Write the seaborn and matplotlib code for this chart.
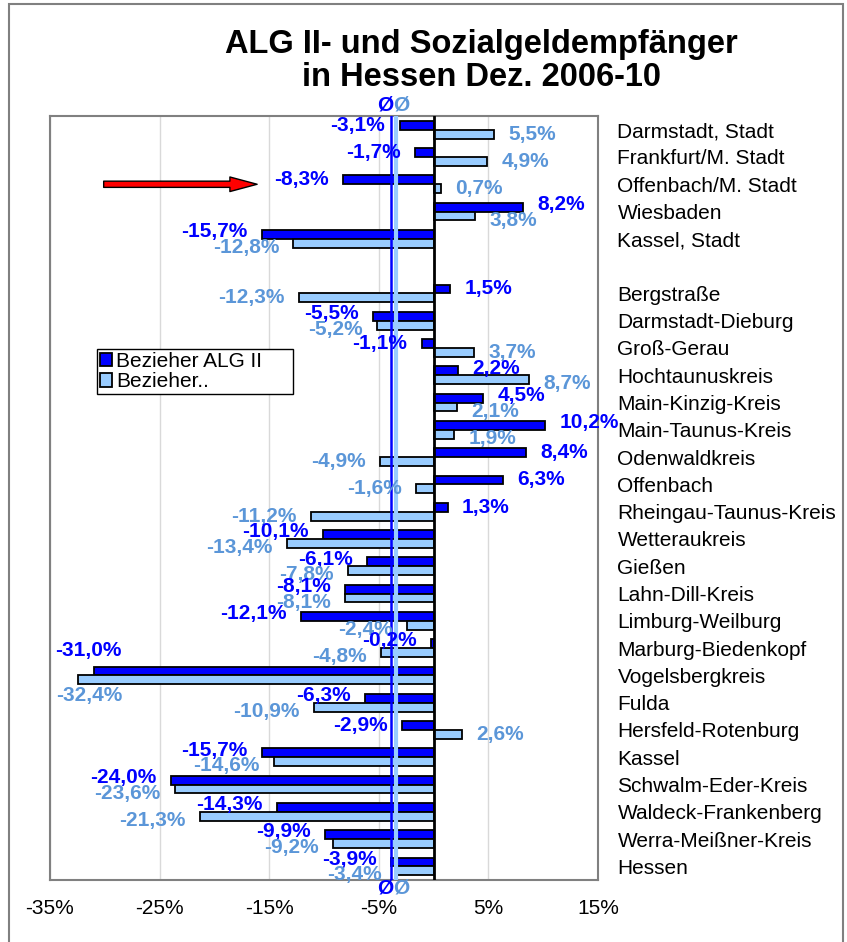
import matplotlib
matplotlib.use('Agg')
import matplotlib.pyplot as plt
import matplotlib.transforms as mtransforms
from matplotlib import font_manager
from matplotlib.patches import Rectangle
import seaborn as sns
import pandas as pd

regions = ["Darmstadt, Stadt", "Frankfurt/M. Stadt", "Offenbach/M. Stadt", "Wiesbaden",
           "Kassel, Stadt", "Bergstraße", "Darmstadt-Dieburg", "Groß-Gerau",
           "Hochtaunuskreis", "Main-Kinzig-Kreis", "Main-Taunus-Kreis", "Odenwaldkreis",
           "Offenbach", "Rheingau-Taunus-Kreis", "Wetteraukreis", "Gießen",
           "Lahn-Dill-Kreis", "Limburg-Weilburg", "Marburg-Biedenkopf", "Vogelsbergkreis",
           "Fulda", "Hersfeld-Rotenburg", "Kassel", "Schwalm-Eder-Kreis",
           "Waldeck-Frankenberg", "Werra-Meißner-Kreis", "Hessen"]
alg2 = [-3.1, -1.7, -8.3, 8.2, -15.7, 1.5, -5.5, -1.1, 2.2, 4.5, 10.2, 8.4, 6.3, 1.3,
        -10.1, -6.1, -8.1, -12.1, -0.2, -31.0, -6.3, -2.9, -15.7, -24.0, -14.3, -9.9, -3.9]
sozialgeld = [5.5, 4.9, 0.7, 3.8, -12.8, -12.3, -5.2, 3.7, 8.7, 2.1, 1.9, -4.9, -1.6, -11.2,
              -13.4, -7.8, -8.1, -2.4, -4.8, -32.4, -10.9, 2.6, -14.6, -23.6, -21.3, -9.2, -3.4]
series_names = ["Bezieher ALG II", "Bezieher.."]
xticks = [-35, -25, -15, -5, 5, 15]

# averages (Hessen) drawn as vertical lines
avg_alg2 = alg2[-1]
avg_soz = sozialgeld[-1]

# empty slot after the kreisfreie Städte
order = regions[:5] + [" "] + regions[5:]

dark_blue = "#0000FF"
light_blue = "#99CCFF"
light_text = "#5B96D8"

sns.set_style("white")
plt.rcParams['font.family'] = ['Liberation Sans', 'DejaVu Sans']
plt.rcParams['text.color'] = 'black'
plt.rcParams['xtick.color'] = 'black'
plt.rcParams['ytick.color'] = 'black'

df = pd.DataFrame({
    "Region": regions * 2,
    "Wert": alg2 + sozialgeld,
    "Gruppe": [series_names[0]] * len(regions) + [series_names[1]] * len(regions),
})

fig = plt.figure(figsize=(8.47, 9.42), dpi=100)
ax = fig.add_axes([0.059, 0.0658, 0.647, 0.811])

sns.barplot(data=df, y="Region", x="Wert", hue="Gruppe", order=order,
            hue_order=series_names, palette=[dark_blue, light_blue], saturation=1,
            orient="h", width=0.65, edgecolor="black", linewidth=1.3,
            errorbar=None, ax=ax, zorder=3)

ax.set_xlim(-35, 15)
ax.set_xticks(xticks)
ax.set_xticklabels([f"{t}%" for t in xticks], fontsize=15)
ax.set_xlabel("")
ax.set_ylabel("")
ax.grid(axis="x", color="#D9D9D9", lw=1, zorder=0)
ax.grid(axis="y", visible=False)
ax.tick_params(axis="x", length=0, pad=14)

ax.yaxis.tick_right()
ax.tick_params(axis="y", length=0, pad=14, labelsize=15)

for s in ax.spines.values():
    s.set_color("#808080")
    s.set_linewidth(1.5)

ax.axvline(0, color="black", lw=2, zorder=4)
ax.axvline(avg_soz, color=light_blue, lw=3, zorder=5)
ax.axvline(avg_alg2, color=dark_blue, lw=1.8, zorder=5)

# Ø markers above and below the plot
trans = mtransforms.blended_transform_factory(ax.transData, ax.transAxes)
mid = (avg_alg2 + avg_soz) / 2
for yy in [1.0144, -0.0105]:
    ax.text(mid, yy, "Ø", color=dark_blue, fontsize=15, fontweight="bold",
            ha="right", va="center", transform=trans, clip_on=False)
    ax.text(mid, yy, "Ø", color=light_text, fontsize=15, fontweight="bold",
            ha="left", va="center", transform=trans, clip_on=False)

# value labels: beside the bar end; pairs on the same side are pushed apart a bit
half = 0.65 / 4
for name, v1, v2 in zip(regions, alg2, sozialgeld):
    pos = order.index(name)
    same_side = (v1 < 0) == (v2 < 0)
    d1 = -half - 0.1 if same_side else -half
    d2 = half + 0.15 if same_side else half
    for v, color, dy, dy_far, dx_far in [(v1, dark_blue, d1, -0.92, -0.5),
                                         (v2, light_text, d2, 0.72, 1.0)]:
        txt = f"{v:.1f}%".replace(".", ",")
        if v < -28:
            ax.text(v + dx_far, pos + dy_far, txt, color=color, fontsize=15,
                    fontweight="bold", ha="center", va="center", zorder=6)
        elif v < 0:
            ax.text(v - 1.3, pos + dy, txt, color=color, fontsize=15,
                    fontweight="bold", ha="right", va="center", zorder=6)
        else:
            ax.text(v + 1.3, pos + dy, txt, color=color, fontsize=15,
                    fontweight="bold", ha="left", va="center", zorder=6)

# red arrow pointing at Offenbach/M. Stadt
arrow_row = order.index("Offenbach/M. Stadt")
ax.annotate("", xy=(-16.1, arrow_row), xytext=(-30.1, arrow_row),
            arrowprops=dict(arrowstyle="simple,head_length=1.4,head_width=0.75,tail_width=0.32",
                            fc="red", ec="black", lw=1, mutation_scale=14,
                            shrinkA=0, shrinkB=0), zorder=6)

handles, labels = ax.get_legend_handles_labels()
leg = ax.legend(handles, labels, loc="upper left",
                bbox_to_anchor=(0.086, 0.636, 0.357, 0.059), mode="expand",
                borderaxespad=0, fontsize=15, frameon=True, fancybox=False,
                framealpha=1, edgecolor="black", handlelength=0.55, handleheight=0.6,
                handletextpad=0.2, labelspacing=0.05, borderpad=0.15)
leg.get_frame().set_linewidth(1)
leg.set_zorder(7)

# title
names = {f.name for f in font_manager.fontManager.ttflist}
if "Liberation Sans Narrow" in names:
    tfam, tsize = "Liberation Sans Narrow", 27
else:
    tfam, tsize = "Liberation Sans", 23.5
fig.text(0.568, 0.935, "ALG II- und Sozialgeldempfänger\nin Hessen Dez. 2006-10",
         ha="center", va="center", fontsize=tsize, fontweight="bold",
         family=tfam, linespacing=1.1)

# outer chart border
fig.patches.append(Rectangle((9 / 847, -0.01), (843 - 9) / 847, 1.0058,
                             transform=fig.transFigure, fill=False,
                             ec="#808080", lw=1.5))

fig.savefig("out.png", dpi=100)
